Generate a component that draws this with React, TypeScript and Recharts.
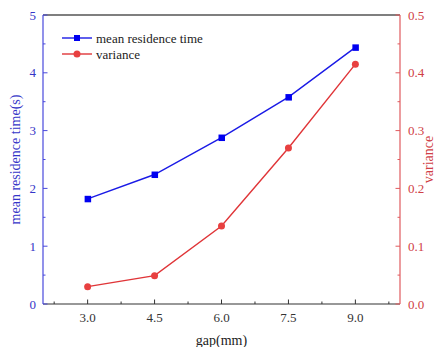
import React from 'react';
import { ComposedChart, Line, XAxis, YAxis, ReferenceLine, Legend } from 'recharts';

const gaps = [3.0, 4.5, 6.0, 7.5, 9.0];
const meanResidence = [1.82, 2.24, 2.88, 3.58, 4.44];
const varianceValues = [0.030, 0.049, 0.135, 0.270, 0.415];
const xTicks = [2.25, 3.0, 3.75, 4.5, 5.25, 6.0, 6.75, 7.5, 8.25, 9.0, 9.75];
const xMajor = [3.0, 4.5, 6.0, 7.5, 9.0];
const leftTicks = [0, 0.5, 1, 1.5, 2, 2.5, 3, 3.5, 4, 4.5, 5];
const rightTicks = [0, 0.05, 0.1, 0.15, 0.2, 0.25, 0.3, 0.35, 0.4, 0.45, 0.5];

const data = gaps.map((g, i) => ({ gap: g, mean: meanResidence[i], variance: varianceValues[i] }));

const FONT = '"Liberation Serif", "Times New Roman", serif';
const BLUE = '#1a1ae6';
const BLUE_AXIS = '#4848dc';
const RED = '#e03538';
const RED_AXIS = '#e05a5e';

const isMajor = (v: number, majors: number[]) => majors.some((m) => Math.abs(m - v) < 1e-6);

const XTick = (props: any) => {
  const { x, y, payload } = props;
  const major = isMajor(payload.value, xMajor);
  return (
    <g>
      <line x1={x} y1={y} x2={x} y2={y - (major ? 4.5 : 2.5)} stroke="#333" strokeWidth={1} />
      {major && (
        <text x={x} y={y + 18} textAnchor="middle" fontFamily={FONT} fontSize={13} fill="#333">
          {payload.value.toFixed(1)}
        </text>
      )}
    </g>
  );
};

const LeftTick = (props: any) => {
  const { x, y, payload } = props;
  const major = Number.isInteger(payload.value);
  return (
    <g>
      <line x1={x} y1={y} x2={x + (major ? 4.5 : 2.5)} y2={y} stroke={BLUE_AXIS} strokeWidth={1} />
      {major && (
        <text x={x - 7} y={y + 4.5} textAnchor="end" fontFamily={FONT} fontSize={13} fill="#3535c8">
          {payload.value}
        </text>
      )}
    </g>
  );
};

const RightTick = (props: any) => {
  const { x, y, payload } = props;
  const major = Math.abs(payload.value * 10 - Math.round(payload.value * 10)) < 1e-6;
  return (
    <g>
      <line x1={x} y1={y} x2={x - (major ? 4.5 : 2.5)} y2={y} stroke={RED_AXIS} strokeWidth={1} />
      {major && (
        <text x={x + 8} y={y + 4.5} textAnchor="start" fontFamily={FONT} fontSize={13} fill="#d04045">
          {payload.value.toFixed(1)}
        </text>
      )}
    </g>
  );
};

const LegendContent = () => (
  <svg width={160} height={36} style={{ overflow: 'visible', display: 'block' }}>
    <line x1={2} y1={8} x2={32} y2={8} stroke={BLUE} strokeWidth={1.4} />
    <rect x={14} y={5} width={6} height={6} fill="#0000f0" />
    <text x={36} y={12.5} fontFamily={FONT} fontSize={13} fill="#222">mean residence time</text>
    <line x1={2} y1={24} x2={32} y2={24} stroke={RED} strokeWidth={1.4} />
    <circle cx={17} cy={24} r={3.5} fill="#e84040" />
    <text x={36} y={28.5} fontFamily={FONT} fontSize={13} fill="#222">variance</text>
  </svg>
);

const SquareDot = (props: any) => {
  const { cx, cy } = props;
  return <rect x={cx - 3} y={cy - 3} width={6.5} height={6.5} fill="#0000f0" />;
};

export default function App() {
  return (
    <div style={{ position: 'absolute', left: 0, top: 0, width: 435, height: 347, background: '#fff' }}>
      <ComposedChart width={435} height={347} data={data} margin={{ top: 15, right: 0, bottom: 0, left: 0 }}>
        <XAxis
          dataKey="gap"
          type="number"
          domain={[2, 10]}
          ticks={xTicks}
          interval={0}
          height={43}
          tickSize={0}
          tickMargin={0}
          tickLine={false}
          axisLine={{ stroke: '#333', strokeWidth: 1.2 }}
          tick={<XTick />}
          label={{ value: 'gap(mm)', position: 'insideBottom', offset: 2, fontFamily: FONT, fontSize: 14, fill: '#222' }}
        />
        <YAxis
          yAxisId="left"
          orientation="left"
          domain={[0, 5]}
          ticks={leftTicks}
          interval={0}
          width={43}
          tickSize={0}
          tickMargin={0}
          tickLine={false}
          axisLine={{ stroke: BLUE_AXIS, strokeWidth: 1.2 }}
          tick={<LeftTick />}
          label={{ value: 'mean residence time(s)', angle: -90, position: 'insideLeft', offset: 15, fontFamily: FONT, fontSize: 14, fill: '#3535c8', style: { textAnchor: 'middle' } }}
        />
        <YAxis
          yAxisId="right"
          orientation="right"
          domain={[0, 0.5]}
          ticks={rightTicks}
          interval={0}
          width={35}
          tickSize={0}
          tickMargin={0}
          tickLine={false}
          axisLine={{ stroke: RED_AXIS, strokeWidth: 1.2 }}
          tick={<RightTick />}
          label={{ value: 'variance', angle: -90, position: 'insideRight', offset: 7, fontFamily: FONT, fontSize: 14, fill: '#d04045', style: { textAnchor: 'middle' } }}
        />
        <ReferenceLine yAxisId="left" y={5} stroke="#000" strokeWidth={1.2} ifOverflow="visible" />
        <Legend
          layout="horizontal"
          verticalAlign="middle"
          align="center"
          wrapperStyle={{ position: 'absolute', left: 60, top: 30, width: 170, height: 36 }}
          content={<LegendContent />}
        />
        <Line
          yAxisId="left"
          dataKey="mean"
          type="linear"
          stroke={BLUE}
          strokeWidth={1.4}
          dot={<SquareDot />}
          activeDot={false}
          isAnimationActive={false}
        />
        <Line
          yAxisId="right"
          dataKey="variance"
          type="linear"
          stroke={RED}
          strokeWidth={1.4}
          dot={{ r: 3.5, fill: '#e84040', stroke: 'none' }}
          activeDot={false}
          isAnimationActive={false}
        />
      </ComposedChart>
    </div>
  );
}
